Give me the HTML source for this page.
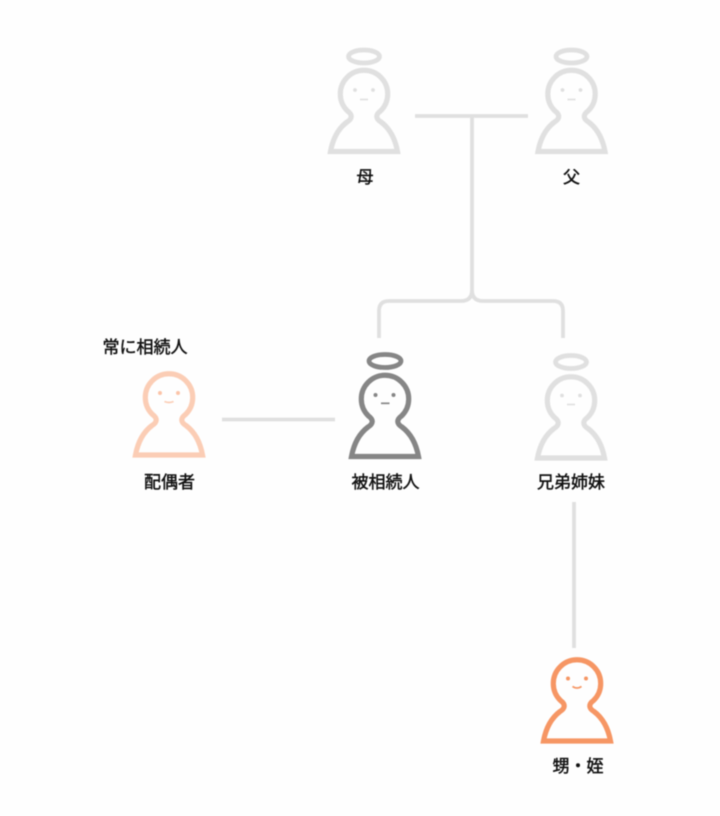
<!DOCTYPE html>
<html lang="ja">
<head>
<meta charset="utf-8">
<style>
html,body{margin:0;padding:0;background:#fefefe;}
svg{display:block;}
text{font-family:"Liberation Sans","Noto Sans CJK JP",sans-serif;font-size:17px;font-weight:400;fill:#111;stroke:#111;stroke-width:.45px;text-anchor:middle;}
.b{fill:none;stroke-width:5.2;stroke-linejoin:miter;}
.h{fill:none;stroke-width:4.8;}
.l{fill:none;stroke:#e0e0e0;stroke-width:3.8;}
</style>
</head>
<body>
<svg width="720" height="816" viewBox="0 0 720 816" xmlns="http://www.w3.org/2000/svg" style="filter:blur(.5px)">
<defs>
<path id="body" class="b" d="M-33.500 57.500H33.500C31 44 25 34 17 28C12 25 11 21 16.500 17A23.700 23.700 0 1 0 -16.500 17C-11 21 -12 25 -17 28C-25 34 -31 44 -33.500 57.500Z"/>
</defs>

<path class="l" d="M415 116H528M472 116V290Q472 301 461 301H389Q379 301 379 311V338"/>
<path class="l" d="M472 290Q472 301 483 301H553Q563 301 563 311V338"/>
<path class="l" d="M222 419.500H335M574 502V648"/>

<g transform="translate(364 94)" stroke="#e0e0e0" fill="#e0e0e0">
<use href="#body"/>
<ellipse class="h" cx="0" cy="-37.500" rx="15.500" ry="6.500"/>
<circle cx="-9" cy="-4" r="1.900" stroke="none"/><circle cx="9" cy="-4" r="1.900" stroke="none"/>
<path d="M-4 5.500H4" stroke-width="1.700" fill="none"/>
</g>
<g transform="translate(571.500 94)" stroke="#e0e0e0" fill="#e0e0e0">
<use href="#body"/>
<ellipse class="h" cx="0" cy="-37.500" rx="15.500" ry="6.500"/>
<circle cx="-9" cy="-4" r="1.900" stroke="none"/><circle cx="9" cy="-4" r="1.900" stroke="none"/>
<path d="M-4 5.500H4" stroke-width="1.700" fill="none"/>
</g>
<g transform="translate(169 397.500)" stroke="#fbcdb5" fill="#fbcdb5">
<use href="#body"/>
<circle cx="-9" cy="-4.500" r="2" stroke="none" fill="#fbc4a8"/><circle cx="9" cy="-4.500" r="2" stroke="none" fill="#fbc4a8"/>
<path d="M-4.500 4Q0 6 4.500 4" stroke-width="1.700" fill="none"/>
</g>
<g transform="translate(385 399)" stroke="#868686" fill="#868686">
<use href="#body"/>
<ellipse class="h" cx="0" cy="-38" rx="16" ry="6.500"/>
<circle cx="-9.500" cy="-4" r="2" stroke="none"/><circle cx="8.500" cy="-4" r="2" stroke="none"/>
<path d="M-4 4.300H4.500" stroke-width="1.700" fill="none"/>
</g>
<g transform="translate(571 400.500)" stroke="#e0e0e0" fill="#e0e0e0">
<use href="#body"/>
<ellipse class="h" cx="0" cy="-38.500" rx="15.500" ry="6.500"/>
<circle cx="-9" cy="-5" r="1.900" stroke="none"/><circle cx="9" cy="-5" r="1.900" stroke="none"/>
<path d="M-4 4H4" stroke-width="1.700" fill="none"/>
</g>
<g transform="translate(577 683.500)" stroke="#f69664" fill="#f69664">
<use href="#body"/>
<circle cx="-9" cy="-5" r="2" stroke="none"/><circle cx="9" cy="-5" r="2" stroke="none"/>
<path d="M-4.500 3Q0 6 4.500 3" stroke-width="1.700" fill="none"/>
</g>

<text x="365" y="183">母</text>
<text x="571.500" y="183">父</text>
<text x="145" y="353">常に相続人</text>
<text x="169.500" y="488">配偶者</text>
<text x="385.500" y="488">被相続人</text>
<text x="571" y="488">兄弟姉妹</text>
<text x="578" y="772">甥・姪</text>
</svg>
</body>
</html>
